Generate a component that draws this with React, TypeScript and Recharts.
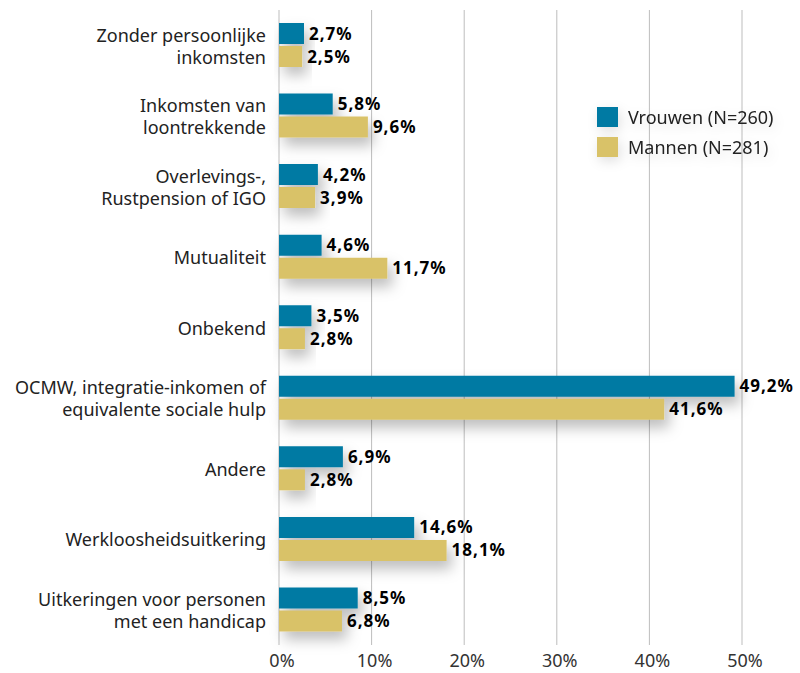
import { Bar, BarChart, CartesianGrid, LabelList, XAxis, YAxis } from "recharts";

const categories = [
  "Zonder persoonlijke\ninkomsten",
  "Inkomsten van\nloontrekkende",
  "Overlevings-,\nRustpension of IGO",
  "Mutualiteit",
  "Onbekend",
  "OCMW, integratie-inkomen of\nequivalente sociale hulp",
  "Andere",
  "Werkloosheidsuitkering",
  "Uitkeringen voor personen\nmet een handicap",
];
const vrouwen = [2.7, 5.8, 4.2, 4.6, 3.5, 49.2, 6.9, 14.6, 8.5];
const mannen = [2.5, 9.6, 3.9, 11.7, 2.8, 41.6, 2.8, 18.1, 6.8];
const xTicks = [0, 10, 20, 30, 40, 50];
const seriesNames = ["Vrouwen (N=260)", "Mannen (N=281)"];
const colors = ["#007AA3", "#D9C268"];

const data = categories.map((name, i) => ({ name, vrouwen: vrouwen[i], mannen: mannen[i] }));

const FONT = "'Noto Sans', sans-serif";

const fmt = (v: any) => `${Number(v).toFixed(1).replace(".", ",")}%`;

function CategoryTick(props: any) {
  const { x, y, payload } = props;
  const lines = String(payload.value).split("\n");
  const lh = 22;
  const start = y + 1 - ((lines.length - 1) * lh) / 2;
  return (
    <text x={x - 13} textAnchor="end" fontFamily={FONT} fontSize={18} fill="#222">
      {lines.map((l, i) => (
        <tspan key={i} x={x - 13} y={start + i * lh} dy="0.35em">
          {l}
        </tspan>
      ))}
    </text>
  );
}

function ValueTick(props: any) {
  const { x, payload } = props;
  return (
    <text x={x + 3} y={661} dy="0.35em" textAnchor="middle" fontFamily={FONT} fontSize={18} fill="#333">
      {payload.value}%
    </text>
  );
}

function LegendBox() {
  return (
    <div
      style={{
        position: "absolute",
        left: 597,
        top: 103,
        fontFamily: FONT,
        fontSize: 18,
        color: "#222",
        filter: "drop-shadow(2px 4px 6px rgba(0,0,0,0.12))",
      }}
    >
      {seriesNames.map((n, i) => (
        <div key={n} style={{ display: "flex", alignItems: "center", height: 27, marginBottom: 3, whiteSpace: "nowrap" }}>
          <span style={{ width: 21, height: 20, background: colors[i], display: "inline-block", marginRight: 10 }} />
          <span>{n}</span>
        </div>
      ))}
    </div>
  );
}

export default function App() {
  return (
    <div style={{ position: "absolute", left: 0, top: 0, width: 800, height: 673, background: "#fff" }}>
      <BarChart
        width={800}
        height={673}
        data={data}
        layout="vertical"
        margin={{ top: 10, right: 58, bottom: 0, left: 0 }}
        barSize={21}
        barGap={2}
      >
        <defs>
          <filter id="shadow" x="-20%" y="-60%" width="160%" height="320%">
            <feDropShadow dx={5} dy={8} stdDeviation={7} floodColor="#000" floodOpacity={0.26} />
          </filter>
        </defs>
        <CartesianGrid horizontal={false} stroke="#bdbdbd" strokeWidth={1} />
        <XAxis
          type="number"
          domain={[0, 50]}
          ticks={xTicks}
          axisLine={false}
          tickLine={false}
          height={28}
          tick={<ValueTick />}
          interval={0}
        />
        <YAxis
          type="category"
          dataKey="name"
          width={279}
          axisLine={false}
          tickLine={false}
          tickSize={0}
          tickMargin={0}
          tick={<CategoryTick />}
          interval={0}
        />
        <Bar dataKey="vrouwen" name={seriesNames[0]} fill={colors[0]} isAnimationActive={false} filter="url(#shadow)">
          <LabelList dataKey="vrouwen" position="right" offset={5} formatter={fmt} fontFamily={FONT} fontSize={17} fontWeight={700} fill="#000" letterSpacing={1} />
        </Bar>
        <Bar dataKey="mannen" name={seriesNames[1]} fill={colors[1]} isAnimationActive={false} filter="url(#shadow)">
          <LabelList dataKey="mannen" position="right" offset={5} formatter={fmt} fontFamily={FONT} fontSize={17} fontWeight={700} fill="#000" letterSpacing={1} />
        </Bar>
      </BarChart>
      <LegendBox />
    </div>
  );
}
